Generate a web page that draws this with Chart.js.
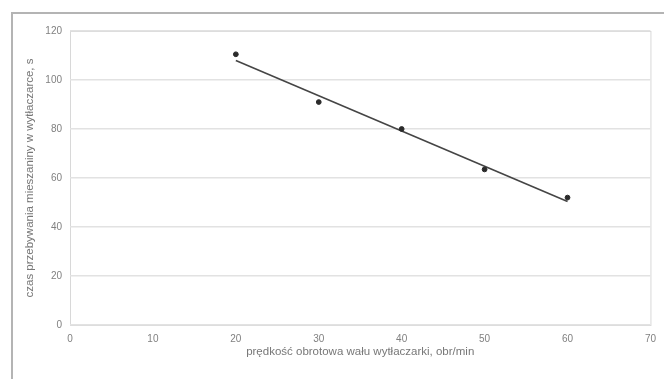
<!DOCTYPE html>
<html>
<head>
<meta charset="utf-8">
<script src="https://cdn.jsdelivr.net/npm/chart.js@4"></script>
<style>
html,body{margin:0;padding:0;background:#fff;}
#wrap{width:664px;height:379px;position:relative;}
</style>
</head>
<body>
<div id="wrap"><canvas id="c" width="664" height="379"></canvas></div>
<script>
const speedX = [20, 30, 40, 50, 60];
const timeY = [110.5, 91, 80, 63.5, 52];
const trendX = [20, 60];
const trendY = [108, 50.4];
const xTitle = 'prędkość obrotowa wału wytłaczarki, obr/min';
const yTitle = 'czas przebywania mieszaniny w wytłaczarce, s';

const pts = speedX.map((x, i) => ({x: x, y: timeY[i]}));
const trend = trendX.map((x, i) => ({x: x, y: trendY[i]}));

const frame = {
  id: 'frame',
  beforeDraw(chart) {
    const ctx = chart.ctx;
    ctx.save();
    ctx.strokeStyle = '#b4b4b4';
    ctx.lineWidth = 2;
    ctx.beginPath();
    ctx.moveTo(12, 379);
    ctx.lineTo(12, 13);
    ctx.lineTo(664, 13);
    ctx.stroke();
    const a = chart.chartArea;
    ctx.strokeStyle = '#d8d8d8';
    ctx.lineWidth = 1;
    ctx.strokeRect(a.left + 0.5, a.top + 0.5, a.right - a.left, a.bottom - a.top);
    ctx.restore();
  }
};

const tickFont = {family: 'Liberation Sans', size: 10};
const titleFont = {family: 'Liberation Sans', size: 11.5};

new Chart(document.getElementById('c'), {
  type: 'scatter',
  data: {
    datasets: [
      {
        type: 'line',
        data: trend,
        borderColor: '#454545',
        borderWidth: 1.6,
        pointRadius: 0,
        fill: false,
        order: 2
      },
      {
        data: pts,
        backgroundColor: '#2a2a2a',
        borderColor: '#2a2a2a',
        pointRadius: 2.4,
        order: 1
      }
    ]
  },
  options: {
    responsive: false,
    animation: false,
    devicePixelRatio: 1,
    layout: {padding: {left: 0, top: 31, right: 8, bottom: 0}},
    plugins: {legend: {display: false}, tooltip: {enabled: false}},
    scales: {
      x: {
        type: 'linear',
        min: 0, max: 70,
        ticks: {stepSize: 10, color: '#808080', font: tickFont, padding: 8},
        grid: {display: false, drawTicks: false},
        border: {display: false},
        title: {display: true, text: xTitle, color: '#777', font: titleFont, padding: {top: 0, bottom: 20}},
        afterFit(s) { s.height = 54; }
      },
      y: {
        min: 0, max: 120,
        ticks: {stepSize: 20, color: '#808080', font: tickFont, padding: 8},
        grid: {color: '#e2e2e2', lineWidth: 1.5, drawTicks: false},
        border: {display: false},
        title: {display: true, text: yTitle, color: '#777', font: titleFont, padding: {top: 23, bottom: 0}},
        afterFit(s) { s.width = 70; }
      }
    }
  },
  plugins: [frame]
});
</script>
</body>
</html>
